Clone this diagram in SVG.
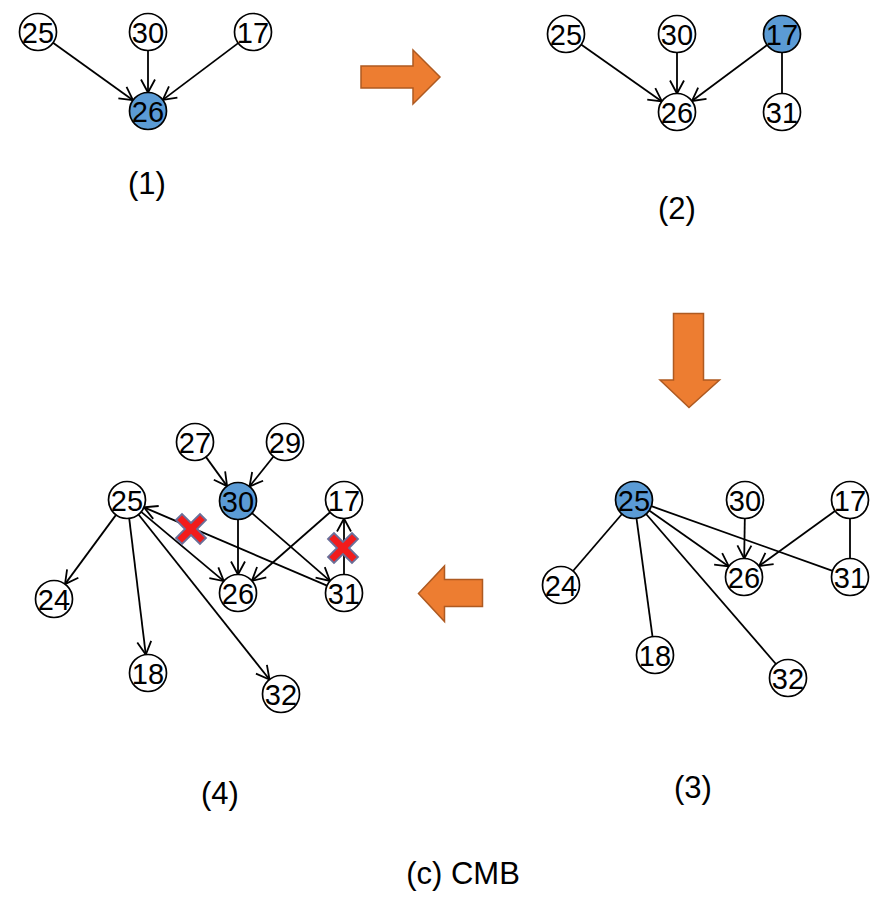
<svg xmlns="http://www.w3.org/2000/svg" width="887" height="917" viewBox="0 0 887 917">
<style>
.n circle{fill:#fff;stroke:#000;stroke-width:1.7}
.n.s circle{fill:#5b9bd5}
.n text{font-family:"Liberation Sans",Arial,sans-serif;font-size:29px;text-anchor:middle;fill:#000}
.e line{stroke:#000;stroke-width:1.8}
.e line.a{marker-end:url(#ah)}
.big{fill:#ed7d31;stroke:#ae5a21;stroke-width:1.5}
.lbl{font-family:"Liberation Sans",Arial,sans-serif;font-size:31px;text-anchor:middle;fill:#000}
.x{fill:#f21c1c;stroke:#6a6f99;stroke-width:1.8}
</style>
<defs>
<marker id="ah" viewBox="-14 -9 16 18" refX="0" refY="0" markerWidth="16" markerHeight="18" markerUnits="userSpaceOnUse" orient="auto">
<path d="M-13,-7 L0,0 L-13,7" fill="none" stroke="#000" stroke-width="1.8"/>
</marker>
<path id="xmark" d="M-15,-9 L-9,-15 L0,-6 L9,-15 L15,-9 L6,0 L15,9 L9,15 L0,6 L-9,15 L-15,9 L-6,0 Z"/>
</defs>
<rect width="887" height="917" fill="#fff"/>

<g id="connectors" class="e">
<!-- panel 1 -->
<line class="a" x1="53" y1="42.8" x2="133" y2="100.2"/>
<line class="a" x1="148" y1="50.5" x2="148" y2="92.5"/>
<line class="a" x1="238.2" y1="43.1" x2="162.8" y2="99.9"/>
<!-- panel 2 -->
<line class="a" x1="581.1" y1="44.6" x2="661.9" y2="101.4"/>
<line class="a" x1="677" y1="52.5" x2="677" y2="93.5"/>
<line class="a" x1="767.1" y1="45" x2="691.9" y2="101"/>
<line x1="782" y1="52.5" x2="782" y2="93.5"/>
<!-- panel 3 -->
<line x1="622" y1="514" x2="573" y2="571"/>
<line x1="636.5" y1="518.3" x2="652.5" y2="636.7"/>
<line x1="646.1" y1="514" x2="775.9" y2="664"/>
<line class="a" x1="649.2" y1="510.6" x2="728.8" y2="566.4"/>
<line x1="651.4" y1="506.2" x2="832.6" y2="570.8"/>
<line class="a" x1="744.8" y1="518.5" x2="744.2" y2="558.5"/>
<line class="a" x1="835" y1="510.9" x2="759" y2="566.1"/>
<line x1="850" y1="518.5" x2="850" y2="558.5"/>
<!-- panel 4 -->
<line class="a" x1="205.9" y1="456.9" x2="227.1" y2="486.1"/>
<line class="a" x1="273.5" y1="456.5" x2="249.5" y2="486.5"/>
<line class="a" x1="116" y1="514.9" x2="65" y2="584.1"/>
<line class="a" x1="129.2" y1="518.4" x2="145.8" y2="654.6"/>
<line class="a" x1="138.5" y1="514.5" x2="269.5" y2="679.5"/>
<line class="a" x1="141.2" y1="511.9" x2="223.8" y2="581.1"/>
<line class="a" x1="327" y1="585.7" x2="144" y2="507.3"/>
<line class="a" x1="238" y1="519.5" x2="238" y2="574.5"/>
<line class="a" x1="252" y1="513.1" x2="330" y2="580.9"/>
<line class="a" x1="330.1" y1="512.2" x2="251.9" y2="580.8"/>
<line class="a" x1="344" y1="574.5" x2="344" y2="518.5"/>
</g>

<!-- panel 1 nodes -->
<g id="p1-25" class="n"><circle cx="38" cy="32" r="18.5"/><text x="38" y="42.5">25</text></g>
<g id="p1-30" class="n"><circle cx="148" cy="32" r="18.5"/><text x="148" y="42.5">30</text></g>
<g id="p1-17" class="n"><circle cx="253" cy="32" r="18.5"/><text x="253" y="42.5">17</text></g>
<g id="p1-26" class="n s"><circle cx="148" cy="111" r="18.5"/><text x="148" y="121.5">26</text></g>

<!-- panel 2 nodes -->
<g id="p2-25" class="n"><circle cx="566" cy="34" r="18.5"/><text x="566" y="44.5">25</text></g>
<g id="p2-30" class="n"><circle cx="677" cy="34" r="18.5"/><text x="677" y="44.5">30</text></g>
<g id="p2-17" class="n s"><circle cx="782" cy="34" r="18.5"/><text x="782" y="44.5">17</text></g>
<g id="p2-26" class="n"><circle cx="677" cy="112" r="18.5"/><text x="677" y="122.5">26</text></g>
<g id="p2-31" class="n"><circle cx="782" cy="112" r="18.5"/><text x="782" y="122.5">31</text></g>

<!-- panel 3 nodes -->
<g id="p3-25" class="n s"><circle cx="634" cy="500" r="18.5"/><text x="634" y="510.5">25</text></g>
<g id="p3-30" class="n"><circle cx="745" cy="500" r="18.5"/><text x="745" y="510.5">30</text></g>
<g id="p3-17" class="n"><circle cx="850" cy="500" r="18.5"/><text x="850" y="510.5">17</text></g>
<g id="p3-24" class="n"><circle cx="561" cy="585" r="18.5"/><text x="561" y="595.5">24</text></g>
<g id="p3-26" class="n"><circle cx="744" cy="577" r="18.5"/><text x="744" y="587.5">26</text></g>
<g id="p3-31" class="n"><circle cx="850" cy="577" r="18.5"/><text x="850" y="587.5">31</text></g>
<g id="p3-18" class="n"><circle cx="655" cy="655" r="18.5"/><text x="655" y="665.5">18</text></g>
<g id="p3-32" class="n"><circle cx="788" cy="678" r="18.5"/><text x="788" y="688.5">32</text></g>

<!-- panel 4 nodes -->
<g id="p4-27" class="n"><circle cx="195" cy="442" r="18.5"/><text x="195" y="452.5">27</text></g>
<g id="p4-29" class="n"><circle cx="285" cy="442" r="18.5"/><text x="285" y="452.5">29</text></g>
<g id="p4-30" class="n s"><circle cx="238" cy="501" r="18.5"/><text x="238" y="511.5">30</text></g>
<g id="p4-25" class="n"><circle cx="127" cy="500" r="18.5"/><text x="127" y="510.5">25</text></g>
<g id="p4-17" class="n"><circle cx="344" cy="500" r="18.5"/><text x="344" y="510.5">17</text></g>
<g id="p4-26" class="n"><circle cx="238" cy="593" r="18.5"/><text x="238" y="603.5">26</text></g>
<g id="p4-31" class="n"><circle cx="344" cy="593" r="18.5"/><text x="344" y="603.5">31</text></g>
<g id="p4-24" class="n"><circle cx="54" cy="599" r="18.5"/><text x="54" y="609.5">24</text></g>
<g id="p4-18" class="n"><circle cx="148" cy="673" r="18.5"/><text x="148" y="683.5">18</text></g>
<g id="p4-32" class="n"><circle cx="281" cy="694" r="18.5"/><text x="281" y="704.5">32</text></g>

<!-- red crosses -->
<g id="cross1"><use href="#xmark" class="x" transform="translate(191,529)"/></g>
<g id="cross2"><use href="#xmark" class="x" transform="translate(343,548)"/></g>

<!-- big orange arrows -->
<g id="arrow-right"><path class="big" d="M361,66 L413,66 L413,50 L440,77 L413,104 L413,88 L361,88 Z"/></g>
<g id="arrow-down"><path class="big" d="M673.5,313.5 L703.5,313.5 L703.5,380 L719.5,380 L689,407.5 L660,380 L673.5,380 Z"/></g>
<g id="arrow-left"><path class="big" d="M482.5,579.5 L444.5,579.5 L444.5,566 L418.5,593.5 L444.5,621.5 L444.5,606.5 L482.5,606.5 Z"/></g>

<!-- labels -->
<text class="lbl" x="147" y="194">(1)</text>
<text class="lbl" x="677" y="219">(2)</text>
<text class="lbl" x="693" y="798">(3)</text>
<text class="lbl" x="220" y="804">(4)</text>
<text class="lbl" x="463" y="884">(c) CMB</text>
</svg>
